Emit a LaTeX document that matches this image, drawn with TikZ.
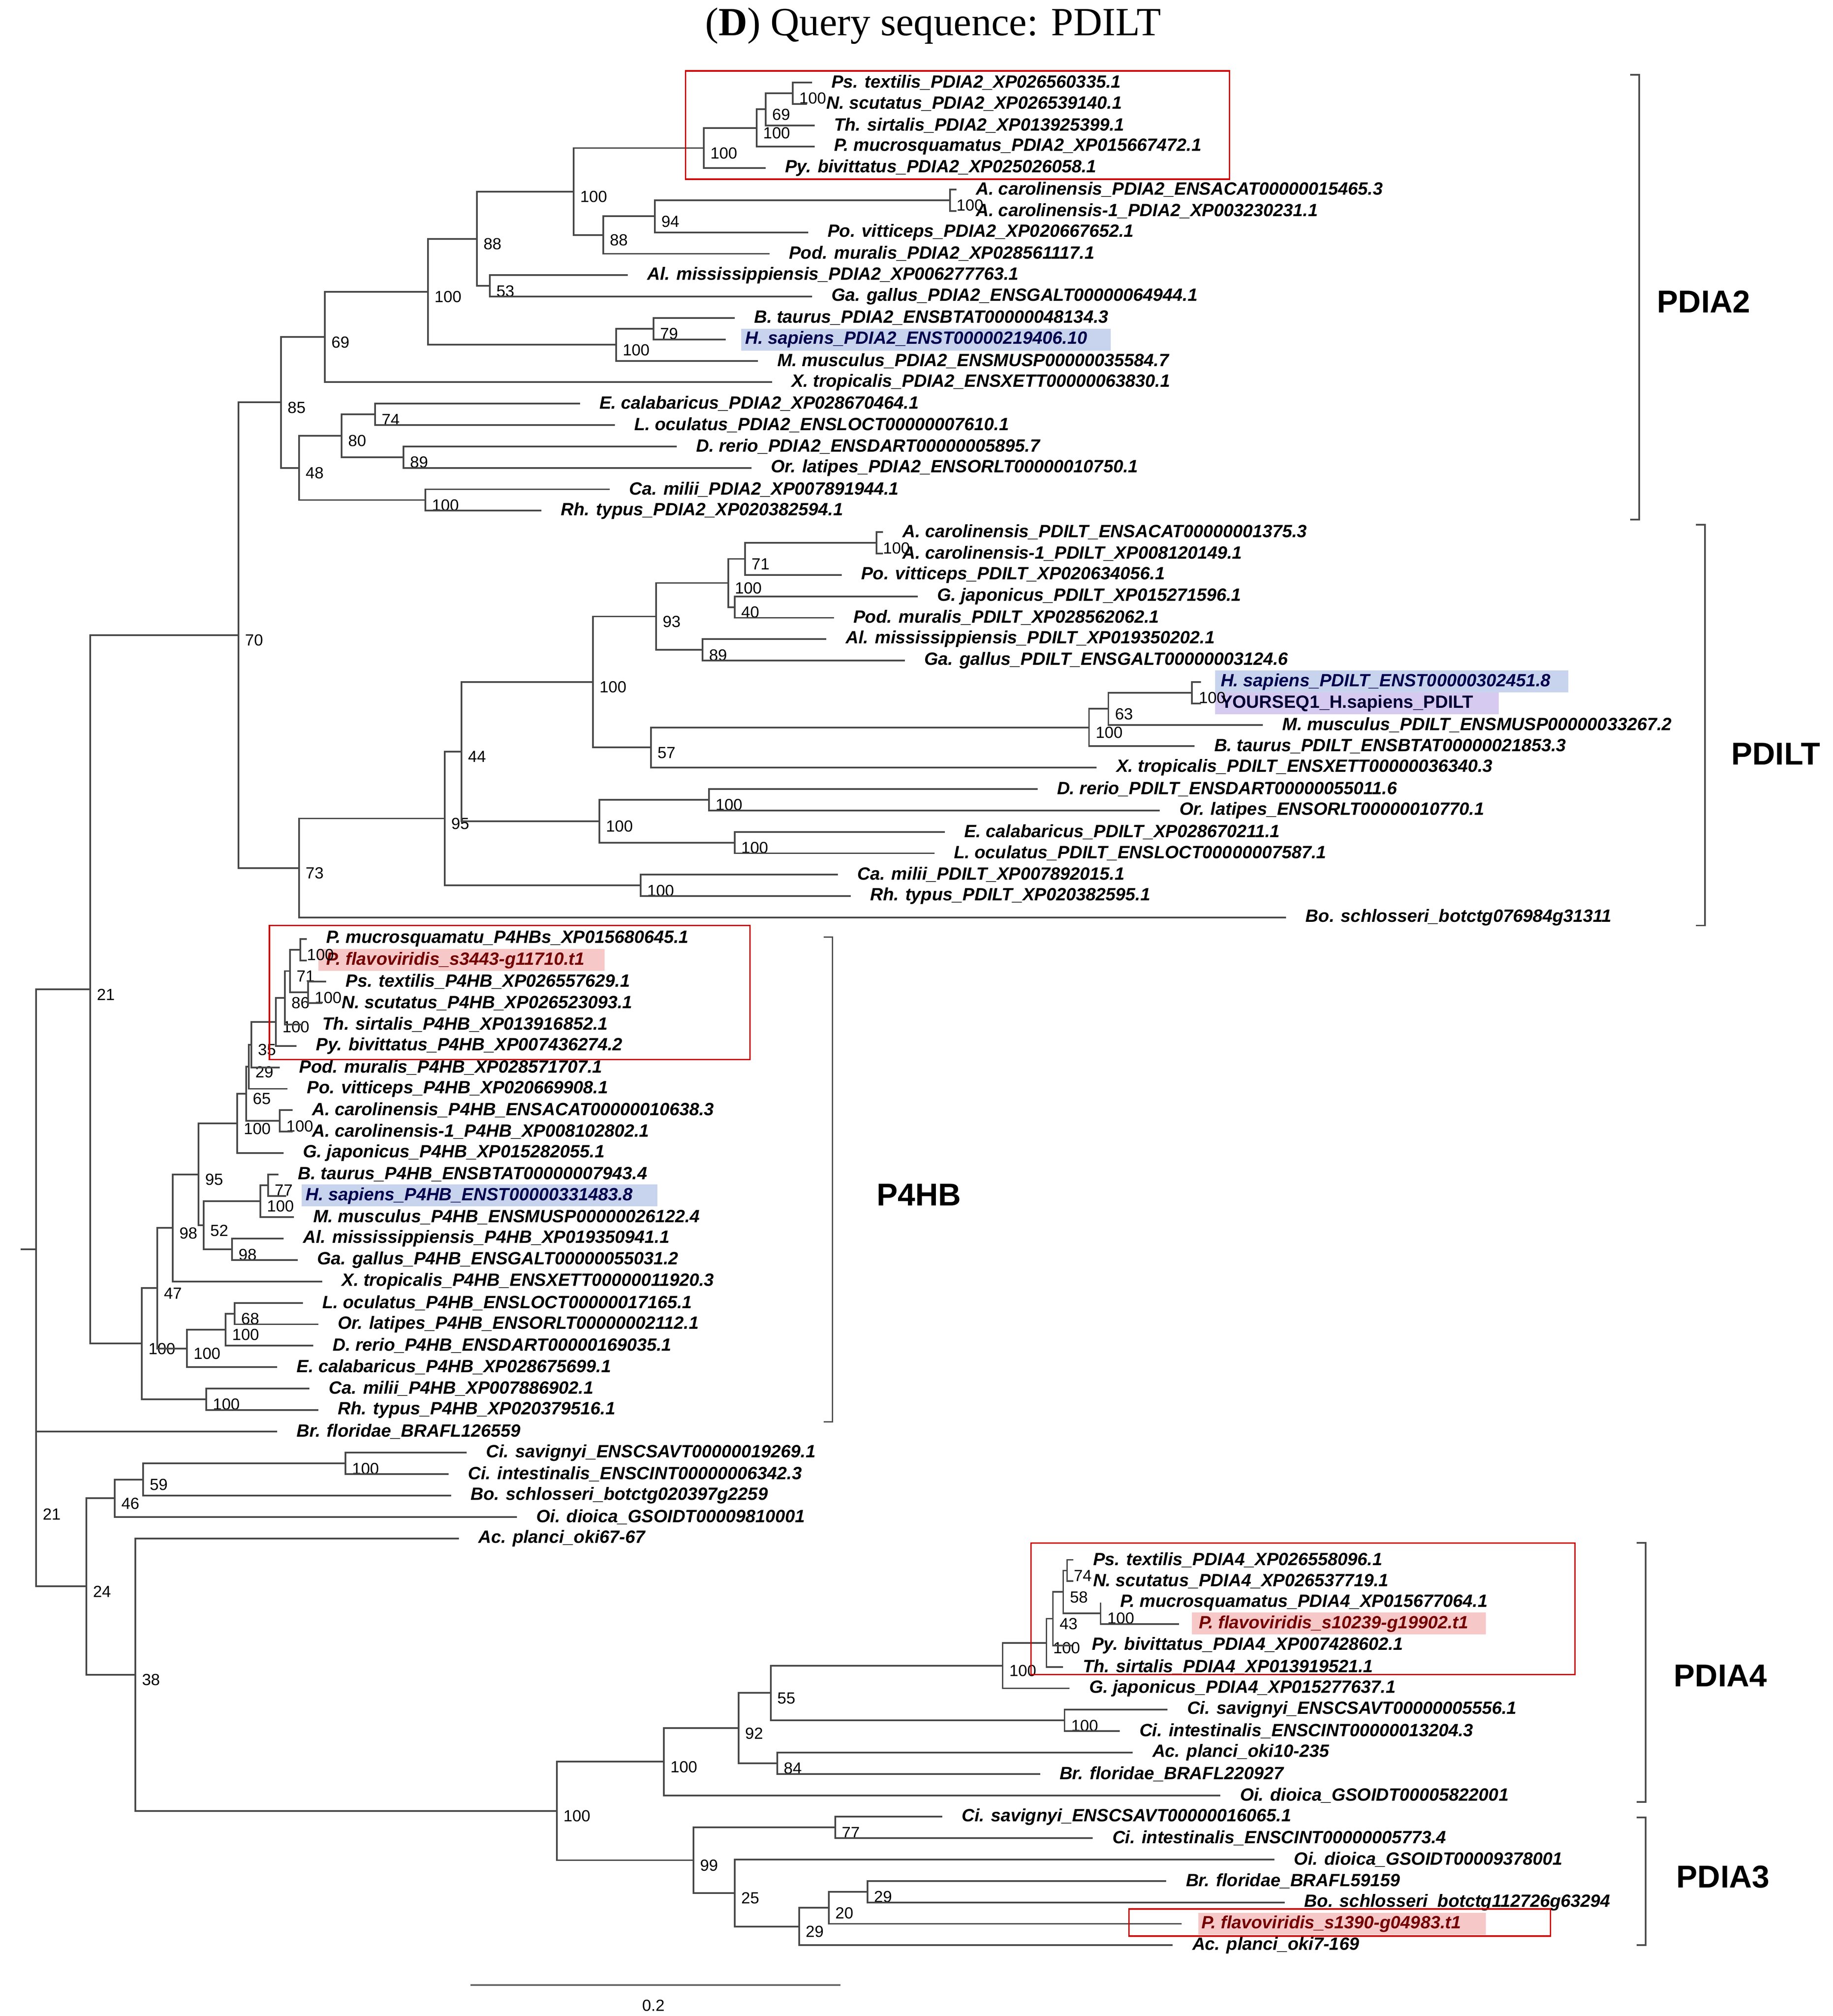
\documentclass[tikz,border=0pt]{standalone}
\usepackage{fontspec}
\setmainfont{Liberation Sans}
\newfontfamily\ttlfont{Liberation Serif}
\definecolor{hblue}{RGB}{200,212,238}
\definecolor{hpink}{RGB}{247,200,200}
\definecolor{hviol}{RGB}{214,202,240}
\begin{document}
\begin{tikzpicture}[x=1pt,y=-1pt,
  br/.style={draw=black!72,line width=1.3pt},
  lf/.style={anchor=west,inner sep=0pt,font=\fontsize{13.8}{15}\selectfont\bfseries\itshape},
  bs/.style={anchor=west,inner sep=0pt,font=\fontsize{12.5}{14}\selectfont},
  hlb/.style={fill=hblue,draw=none},
  hlp/.style={fill=hpink,draw=none},
  hlv/.style={fill=hviol,draw=none},
  rbox/.style={draw=red!80!black,line width=1.1pt},
  brk/.style={draw=black!70,line width=1.2pt},
  clade/.style={font=\fontsize{24.5}{28}\selectfont\bfseries}]
\useasboundingbox (0,0) rectangle (1422,1564);
\newcommand\tnode[4]{\coordinate (#1) at (#2,{64+16.61*(#3)});\node[bs] (#1l) at ([xshift=5pt,yshift=-4pt]#1) {#4};}
\newcommand\tleaf[5][]{\coordinate (#2) at ({#4-15},{64+16.61*(#3)});\node[lf,#1] (#2t) at (#4,{64+16.61*(#3)}) {#5};}
\newcommand\tedge[2]{\foreach \c in {#2}{\draw[br] (#1) |- (\c);}}
% title
\node[font=\ttlfont\fontsize{31}{35}\selectfont] (title) at (724,20) {(\textbf{D}) Query sequence: PDILT};
% highlights
\fill[hlb] (575,255) rectangle (862,272);
\fill[hlb] (943,520) rectangle (1217,537);
\fill[hlv] (943,537) rectangle (1163,554);
\fill[hlp] (247,736) rectangle (469,753);
\fill[hlb] (234,919) rectangle (510,936);
\fill[hlp] (925,1251) rectangle (1153,1268);
\fill[hlp] (930,1484) rectangle (1153,1501);
% ---- PDIA2 leaves
\tleaf{l0}{0}{645}{Ps. textilis\_PDIA2\_XP026560335.1}
\tleaf{l1}{1}{641}{N. scutatus\_PDIA2\_XP026539140.1}
\tleaf{l2}{2}{647}{Th. sirtalis\_PDIA2\_XP013925399.1}
\tleaf{l3}{3}{647}{P. mucrosquamatus\_PDIA2\_XP015667472.1}
\tleaf{l4}{4}{609}{Py. bivittatus\_PDIA2\_XP025026058.1}
\tleaf{l5}{5}{757}{A. carolinensis\_PDIA2\_ENSACAT00000015465.3}
\tleaf{l6}{6}{757}{A. carolinensis-1\_PDIA2\_XP003230231.1}
\tleaf{l7}{7}{642}{Po. vitticeps\_PDIA2\_XP020667652.1}
\tleaf{l8}{8}{612}{Pod. muralis\_PDIA2\_XP028561117.1}
\tleaf{l9}{9}{502}{Al. mississippiensis\_PDIA2\_XP006277763.1}
\tleaf{l10}{10}{645}{Ga. gallus\_PDIA2\_ENSGALT00000064944.1}
\tleaf{l11}{11}{585}{B. taurus\_PDIA2\_ENSBTAT00000048134.3}
\tleaf[text=blue!30!black]{l12}{12}{578}{H. sapiens\_PDIA2\_ENST00000219406.10}
\tleaf{l13}{13}{603}{M. musculus\_PDIA2\_ENSMUSP00000035584.7}
\tleaf{l14}{14}{614}{X. tropicalis\_PDIA2\_ENSXETT00000063830.1}
\tleaf{l15}{15}{465}{E. calabaricus\_PDIA2\_XP028670464.1}
\tleaf{l16}{16}{492}{L. oculatus\_PDIA2\_ENSLOCT00000007610.1}
\tleaf{l17}{17}{540}{D. rerio\_PDIA2\_ENSDART00000005895.7}
\tleaf{l18}{18}{598}{Or. latipes\_PDIA2\_ENSORLT00000010750.1}
\tleaf{l19}{19}{488}{Ca. milii\_PDIA2\_XP007891944.1}
\tleaf{l20}{20}{435}{Rh. typus\_PDIA2\_XP020382594.1}
% ---- PDILT leaves
\tleaf{l21}{21}{700}{A. carolinensis\_PDILT\_ENSACAT00000001375.3}
\tleaf{l22}{22}{700}{A. carolinensis-1\_PDILT\_XP008120149.1}
\tleaf{l23}{23}{668}{Po. vitticeps\_PDILT\_XP020634056.1}
\tleaf{l24}{24}{727}{G. japonicus\_PDILT\_XP015271596.1}
\tleaf{l25}{25}{662}{Pod. muralis\_PDILT\_XP028562062.1}
\tleaf{l26}{26}{656}{Al. mississippiensis\_PDILT\_XP019350202.1}
\tleaf{l27}{27}{717}{Ga. gallus\_PDILT\_ENSGALT00000003124.6}
\tleaf[text=blue!30!black]{l28}{28}{947}{H. sapiens\_PDILT\_ENST00000302451.8}
\tleaf[font=\fontsize{13.8}{15}\selectfont\bfseries,text=blue!20!black]{l29}{29}{947}{YOURSEQ1\_H.sapiens\_PDILT}
\tleaf{l30}{30}{995}{M. musculus\_PDILT\_ENSMUSP00000033267.2}
\tleaf{l31}{31}{942}{B. taurus\_PDILT\_ENSBTAT00000021853.3}
\tleaf{l32}{32}{866}{X. tropicalis\_PDILT\_ENSXETT00000036340.3}
\tleaf{l33}{33}{820}{D. rerio\_PDILT\_ENSDART00000055011.6}
\tleaf{l34}{34}{915}{Or. latipes\_ENSORLT00000010770.1}
\tleaf{l35}{35}{748}{E. calabaricus\_PDILT\_XP028670211.1}
\tleaf{l36}{36}{740}{L. oculatus\_PDILT\_ENSLOCT00000007587.1}
\tleaf{l37}{37}{665}{Ca. milii\_PDILT\_XP007892015.1}
\tleaf{l38}{38}{675}{Rh. typus\_PDILT\_XP020382595.1}
\tleaf{l39}{39}{1013}{Bo. schlosseri\_botctg076984g31311}
% ---- P4HB leaves
\tleaf{l40}{40}{253}{P. mucrosquamatu\_P4HBs\_XP015680645.1}
\tleaf[text=red!45!black]{l41}{41}{253}{P. flavoviridis\_s3443-g11710.t1}
\tleaf{l42}{42}{268}{Ps. textilis\_P4HB\_XP026557629.1}
\tleaf{l43}{43}{265}{N. scutatus\_P4HB\_XP026523093.1}
\tleaf{l44}{44}{250}{Th. sirtalis\_P4HB\_XP013916852.1}
\tleaf{l45}{45}{245}{Py. bivittatus\_P4HB\_XP007436274.2}
\tleaf{l46}{46}{232}{Pod. muralis\_P4HB\_XP028571707.1}
\tleaf{l47}{47}{238}{Po. vitticeps\_P4HB\_XP020669908.1}
\tleaf{l48}{48}{242}{A. carolinensis\_P4HB\_ENSACAT00000010638.3}
\tleaf{l49}{49}{242}{A. carolinensis-1\_P4HB\_XP008102802.1}
\tleaf{l50}{50}{235}{G. japonicus\_P4HB\_XP015282055.1}
\tleaf{l51}{51}{231}{B. taurus\_P4HB\_ENSBTAT00000007943.4}
\tleaf[text=blue!30!black]{l52}{52}{237}{H. sapiens\_P4HB\_ENST00000331483.8}
\tleaf{l53}{53}{243}{M. musculus\_P4HB\_ENSMUSP00000026122.4}
\tleaf{l54}{54}{235}{Al. mississippiensis\_P4HB\_XP019350941.1}
\tleaf{l55}{55}{246}{Ga. gallus\_P4HB\_ENSGALT00000055031.2}
\tleaf{l56}{56}{265}{X. tropicalis\_P4HB\_ENSXETT00000011920.3}
\tleaf{l57}{57}{250}{L. oculatus\_P4HB\_ENSLOCT00000017165.1}
\tleaf{l58}{58}{262}{Or. latipes\_P4HB\_ENSORLT00000002112.1}
\tleaf{l59}{59}{258}{D. rerio\_P4HB\_ENSDART00000169035.1}
\tleaf{l60}{60}{230}{E. calabaricus\_P4HB\_XP028675699.1}
\tleaf{l61}{61}{255}{Ca. milii\_P4HB\_XP007886902.1}
\tleaf{l62}{62}{262}{Rh. typus\_P4HB\_XP020379516.1}
\tleaf{l63}{63}{230}{Br. floridae\_BRAFL126559}
% ---- other leaves
\tleaf{l64}{64}{377}{Ci. savignyi\_ENSCSAVT00000019269.1}
\tleaf{l65}{65}{363}{Ci. intestinalis\_ENSCINT00000006342.3}
\tleaf{l66}{66}{365}{Bo. schlosseri\_botctg020397g2259}
\tleaf{l67}{67}{416}{Oi. dioica\_GSOIDT00009810001}
\tleaf{l68}{68}{371}{Ac. planci\_oki67-67}
\tleaf{l69}{69}{848}{Ps. textilis\_PDIA4\_XP026558096.1}
\tleaf{l70}{70}{848}{N. scutatus\_PDIA4\_XP026537719.1}
\tleaf{l71}{71}{869}{P. mucrosquamatus\_PDIA4\_XP015677064.1}
\tleaf[text=red!45!black]{l72}{72}{930}{P. flavoviridis\_s10239-g19902.t1}
\tleaf{l73}{73}{847}{Py. bivittatus\_PDIA4\_XP007428602.1}
\tleaf{l74}{74}{840}{Th. sirtalis\_PDIA4\_XP013919521.1}
\tleaf{l75}{75}{845}{G. japonicus\_PDIA4\_XP015277637.1}
\tleaf{l76}{76}{921}{Ci. savignyi\_ENSCSAVT00000005556.1}
\tleaf{l77}{77}{884}{Ci. intestinalis\_ENSCINT00000013204.3}
\tleaf{l78}{78}{894}{Ac. planci\_oki10-235}
\tleaf{l79}{79}{822}{Br. floridae\_BRAFL220927}
\tleaf{l80}{80}{962}{Oi. dioica\_GSOIDT00005822001}
\tleaf{l81}{81}{746}{Ci. savignyi\_ENSCSAVT00000016065.1}
\tleaf{l82}{82}{863}{Ci. intestinalis\_ENSCINT00000005773.4}
\tleaf{l83}{83}{1004}{Oi. dioica\_GSOIDT00009378001}
\tleaf{l84}{84}{920}{Br. floridae\_BRAFL59159}
\tleaf{l85}{85}{1012}{Bo. schlosseri\_botctg112726g63294}
\tleaf[text=red!45!black]{l86}{86}{932}{P. flavoviridis\_s1390-g04983.t1}
\tleaf{l87}{87}{925}{Ac. planci\_oki7-169}
% ---- internal nodes PDIA2
\tnode{a1}{615}{0.5}{100}\tnode{a2}{594}{1.25}{69}\tnode{a3}{587}{2.125}{100}
\tnode{a4}{546}{3.0625}{100}\tnode{a5}{737}{5.5}{100}\tnode{a6}{508}{6.25}{94}
\tnode{a7}{468}{7.125}{88}\tnode{a8}{445}{5.09}{100}\tnode{a9}{380}{9.5}{53}
\tnode{a10}{370}{7.30}{88}\tnode{a11}{507}{11.5}{79}\tnode{a12}{478}{12.25}{100}
\tnode{a13}{332}{9.77}{100}\tnode{a14}{252}{11.89}{69}\tnode{a15}{291}{15.5}{74}
\tnode{a16}{313}{17.5}{89}\tnode{a17}{265}{16.5}{80}\tnode{a18}{330}{19.5}{100}
\tnode{a19}{232}{18}{48}\tnode{a20}{218}{14.94}{85}
\tedge{a1}{l0,l1}\tedge{a2}{a1,l2}\tedge{a3}{a2,l3}\tedge{a4}{a3,l4}
\tedge{a5}{l5,l6}\tedge{a6}{a5,l7}\tedge{a7}{a6,l8}\tedge{a8}{a4,a7}
\tedge{a9}{l9,l10}\tedge{a10}{a8,a9}\tedge{a11}{l11,l12}\tedge{a12}{a11,l13}
\tedge{a13}{a10,a12}\tedge{a14}{a13,l14}\tedge{a15}{l15,l16}\tedge{a16}{l17,l18}
\tedge{a17}{a15,a16}\tedge{a18}{l19,l20}\tedge{a19}{a17,a18}\tedge{a20}{a14,a19}
% ---- PDILT
\tnode{b1}{680}{21.5}{100}\tnode{b2}{578}{22.25}{71}\tnode{b3}{570}{24.5}{40}
\tnode{b4}{565}{23.375}{100}\tnode{b5}{545}{26.5}{89}\tnode{b6}{509}{24.94}{93}
\tnode{b7}{925}{28.5}{100}\tnode{b8}{860}{29.25}{63}\tnode{b9}{845}{30.125}{100}
\tnode{b10}{505}{31.06}{57}\tnode{b11}{460}{28}{100}\tnode{b12}{550}{33.5}{100}
\tnode{b13}{570}{35.5}{100}\tnode{b14}{465}{34.5}{100}\tnode{b15}{358}{31.25}{44}
\tnode{b16}{497}{37.5}{100}\tnode{b17}{345}{34.375}{95}\tnode{b18}{232}{36.69}{73}
\tnode{c70}{185}{25.81}{70}
\tedge{b1}{l21,l22}\tedge{b2}{b1,l23}\tedge{b3}{l24,l25}\tedge{b4}{b2,b3}
\tedge{b5}{l26,l27}\tedge{b6}{b4,b5}\tedge{b7}{l28,l29}\tedge{b8}{b7,l30}
\tedge{b9}{b8,l31}\tedge{b10}{b9,l32}\tedge{b11}{b6,b10}\tedge{b12}{l33,l34}
\tedge{b13}{l35,l36}\tedge{b14}{b12,b13}\tedge{b15}{b11,b14}\tedge{b16}{l37,l38}
\tedge{b17}{b15,b16}\tedge{b18}{b17,l39}\tedge{c70}{a20,b18}
% ---- P4HB
\tnode{p1}{233}{40.5}{100}\tnode{p2}{239}{42.5}{100}\tnode{p3}{225}{41.5}{71}
\tnode{p4}{221}{42.75}{86}\tnode{p5}{214}{43.875}{100}\tnode{p6}{195}{44.94}{35}
\tnode{p7}{193}{45.97}{29}\tnode{p8}{217}{48.5}{100}\tnode{p9}{191}{47.23}{65}
\tnode{p10}{184}{48.62}{100}\tnode{p11}{208}{51.5}{77}\tnode{p12}{202}{52.25}{100}
\tnode{p13}{180}{54.5}{98}\tnode{p14}{158}{53.375}{52}\tnode{p15}{154}{51}{95}
\tnode{p16}{134}{53.5}{98}\tnode{p17}{182}{57.5}{68}\tnode{p18}{175}{58.25}{100}
\tnode{p19}{145}{59.125}{100}\tnode{p20}{122}{56.31}{47}\tnode{p21}{160}{61.5}{100}
\tnode{p22}{110}{58.9}{100}\tnode{c21}{70}{42.36}{21}
\tedge{p1}{l40,l41}\tedge{p2}{l42,l43}\tedge{p3}{p1,p2}\tedge{p4}{p3,l44}
\tedge{p5}{p4,l45}\tedge{p6}{p5,l46}\tedge{p7}{p6,l47}\tedge{p8}{l48,l49}
\tedge{p9}{p7,p8}\tedge{p10}{p9,l50}\tedge{p11}{l51,l52}\tedge{p12}{p11,l53}
\tedge{p13}{l54,l55}\tedge{p14}{p12,p13}\tedge{p15}{p10,p14}\tedge{p16}{p15,l56}
\tedge{p17}{l57,l58}\tedge{p18}{p17,l59}\tedge{p19}{p18,l60}\tedge{p20}{p16,p19}
\tedge{p21}{l61,l62}\tedge{p22}{p20,p21}\tedge{c21}{c70,p22}
% ---- tunicates / PDIA4 / PDIA3
\tnode{t1}{268}{64.5}{100}\tnode{t2}{111}{65.25}{59}\tnode{t3}{89}{66.125}{46}
\tedge{t1}{l64,l65}\tedge{t2}{t1,l66}\tedge{t3}{t2,l67}
\tnode{d1}{828}{69.5}{74}\tnode{d2}{854}{71.5}{100}\tnode{d3}{825}{70.5}{58}
\tnode{d4}{817}{71.75}{43}\tnode{d5}{812}{72.875}{100}\tnode{d6}{778}{73.94}{100}
\tnode{d7}{826}{76.5}{100}\tnode{d8}{598}{75.22}{55}\tnode{d9}{603}{78.5}{84}
\tnode{d10}{573}{76.86}{92}\tnode{d11}{515}{78.43}{100}
\tedge{d1}{l69,l70}\tedge{d2}{l71,l72}\tedge{d3}{d1,d2}\tedge{d4}{d3,l73}
\tedge{d5}{d4,l74}\tedge{d6}{d5,l75}\tedge{d7}{l76,l77}\tedge{d8}{d6,d7}
\tedge{d9}{l78,l79}\tedge{d10}{d8,d9}\tedge{d11}{d10,l80}
\tnode{e1}{648}{81.5}{77}\tnode{e2}{673}{84.5}{29}\tnode{e3}{643}{85.25}{20}
\tnode{e4}{620}{86.125}{29}\tnode{e5}{570}{84.56}{25}\tnode{e6}{538}{83.03}{99}
\tnode{e7}{432}{80.73}{100}
\tedge{e1}{l81,l82}\tedge{e2}{l84,l85}\tedge{e3}{e2,l86}\tedge{e4}{e3,l87}
\tedge{e5}{l83,e4}\tedge{e6}{e1,e5}\tedge{e7}{d11,e6}
\tnode{t38}{105}{74.36}{38}\tnode{t24}{67}{70.24}{24}\tnode{t21}{28}{66.62}{21}
\tedge{t38}{l68,e7}\tedge{t24}{t3,t38}\tedge{t21}{l63,t24}
\coordinate (root) at (28,{64+16.61*54.49});
\coordinate (rootstub) at (16,{64+16.61*54.49});
\tedge{root}{c21,t21}
\draw[br] (rootstub) -- (root);
% ---- red boxes
\draw[rbox] (532,55) rectangle (954,139);
\draw[rbox] (209,718) rectangle (582,822);
\draw[rbox] (800,1197) rectangle (1222,1299);
\draw[rbox] (876,1481) rectangle (1203,1502);
% ---- clade brackets
\draw[brk] (1265,58) -- (1272,58) -- (1272,403) -- (1265,403);
\node[clade] (cPDIA2) at (1322,234) {PDIA2};
\draw[brk] (1316,407) -- (1323,407) -- (1323,718) -- (1316,718);
\node[clade] (cPDILT) at (1378,585) {PDILT};
\draw[brk] (639,727) -- (646,727) -- (646,1103) -- (639,1103);
\node[clade] (cP4HB) at (713,927) {P4HB};
\draw[brk] (1270,1197) -- (1277,1197) -- (1277,1398) -- (1270,1398);
\node[clade] (cPDIA4) at (1335,1300) {PDIA4};
\draw[brk] (1270,1410) -- (1277,1410) -- (1277,1509) -- (1270,1509);
\node[clade] (cPDIA3) at (1337,1456) {PDIA3};
% ---- scale bar
\coordinate (sb1) at (365,1540);
\coordinate (sb2) at (652,1540);
\draw[draw=black!60,line width=1.3pt] (sb1) -- (sb2);
\node[font=\fontsize{12.5}{14}\selectfont] (sbl) at (507,1556) {0.2};
\end{tikzpicture}
\end{document}
